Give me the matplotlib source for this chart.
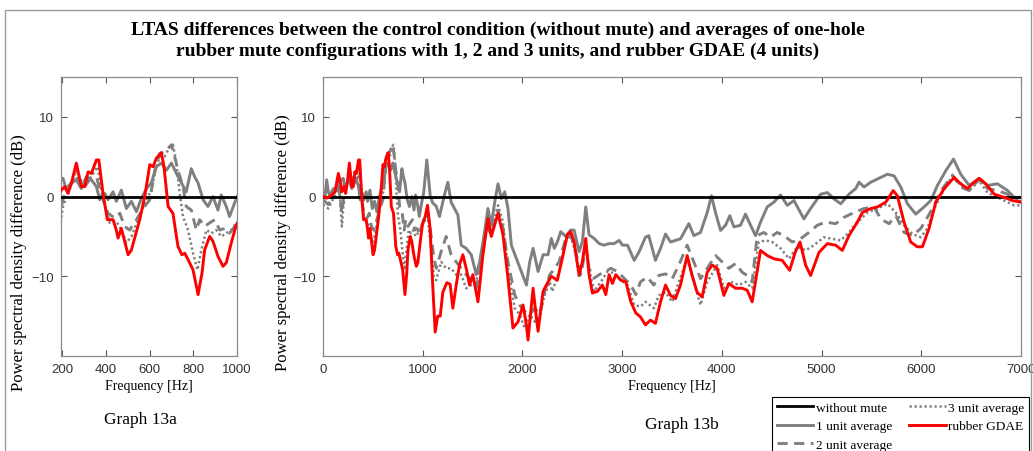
"""
LTAS differences: control vs. one-hole rubber mute averages (Graph 13a / 13b)
"""
import numpy as np
import matplotlib
matplotlib.use("Agg")
import matplotlib.pyplot as plt
from matplotlib.patches import Rectangle

# ---- data (frequency in Hz, difference in dB) ----
f_1unit = [0, 20, 37, 55, 70, 104, 130, 154, 189, 204, 220, 243, 265, 288, 311, 334, 357, 372,
           395, 410, 433, 448, 471, 494, 517, 540, 563, 586, 608, 631, 654, 677, 700, 723, 746,
           768, 791, 806, 822, 845, 867, 890, 913, 928, 951, 966, 989, 1010, 1041, 1075, 1100,
           1135, 1168, 1218, 1252, 1285, 1319, 1353, 1386, 1436, 1487, 1537, 1571, 1621, 1654,
           1688, 1722, 1755, 1789, 1822, 1855, 1889, 1939, 1989, 2040, 2073, 2107, 2157, 2207,
           2257, 2290, 2320, 2350, 2384, 2434, 2484, 2518, 2568, 2601, 2635, 2668, 2719, 2769,
           2819, 2869, 2920, 2970, 3003, 3054, 3121, 3171, 3234, 3267, 3334, 3385, 3435, 3485,
           3535, 3585, 3669, 3719, 3786, 3853, 3896, 3936, 3987, 4037, 4080, 4120, 4187, 4237,
           4288, 4338, 4388, 4455, 4522, 4589, 4656, 4723, 4823, 4890, 4991, 5058, 5125, 5192,
           5275, 5342, 5376, 5426, 5493, 5560, 5660, 5727, 5794, 5861, 5944, 6028, 6095, 6162,
           6246, 6323, 6396, 6480, 6580, 6664, 6764, 6865, 6932, 7000]
v_1unit = [0.6, 0.0, 2.1, 0.5, 0.2, 1.0, 0.8, 1.9, 2.1, 2.3, 0.8, 1.7, 2.1, 1.0, 2.5, 2.1, 1.25, -0.4,
           0.4, -0.4, 0.6, -0.6, 0.8, -1.5, -0.6, -1.9, -0.2, 1.0, 1.7, 3.75, 4.2, 3.3, 4.2, 2.9, 1.7,
           0.6, 3.5, 2.5, 1.7, -0.4, -1.25, 0.0, -1.7, 0.2, -1.25, -2.5, -0.8, 0.5, 4.6, 0.1, -0.8,
           -1.2, -2.5, 0.2, 1.8, -0.7, -1.5, -2.3, -6.1, -6.5, -7.3, -9.8, -8.2, -4.4, -1.5,
           -3.6, -0.7, 1.6, -0.25, 0.6, -1.5, -6.1, -7.75, -9.4, -11.1, -8.2, -6.5, -9.4, -7.3,
           -7.3, -5.25, -6.5, -5.7, -4.4, -5.0, -4.2, -4.2, -6.9, -5.7, -1.3, -4.8, -5.25, -5.9,
           -6.1, -5.9, -5.9, -5.5, -6.1, -6.1, -8.0, -6.9, -5.1, -4.9, -8.0, -6.5, -4.7, -5.7,
           -5.5, -5.3, -3.4, -4.9, -4.5, -2.0, 0.1, -2.0, -4.25, -3.6, -2.4, -3.8, -3.6, -2.2,
           -3.6, -4.9, -3.2, -1.3, -0.7, 0.2, -1.1, -0.5, -2.8, -1.5, 0.3, 0.5, -0.3, -0.9,
           0.3, 1.0, 1.8, 1.2, 1.8, 2.2, 2.8, 2.6, 1.2, -0.9, -2.2, -1.3, -0.5, 1.4,
           3.25, 4.7, 2.8, 1.4, 2.2, 1.4, 1.6, 0.75, -0.1, -0.1]

f_2unit = [0, 54, 104, 154, 189, 204, 227, 265, 296, 326, 357, 380, 410, 441, 464, 486, 509, 540,
           570, 601, 624, 646, 669, 700, 715, 730, 753, 768, 791, 814, 829, 852, 875, 898, 921,
           944, 966, 997, 1020, 1050, 1080, 1110, 1135, 1185, 1235, 1285, 1336, 1386, 1436, 1487,
           1537, 1588, 1638, 1688, 1755, 1805, 1855, 1922, 1972, 2023, 2073, 2123, 2174, 2224,
           2274, 2300, 2367, 2434, 2484, 2535, 2585, 2635, 2668, 2719, 2769, 2836, 2886, 2953,
           3020, 3087, 3137, 3184, 3251, 3318, 3368, 3435, 3502, 3569, 3652, 3719, 3786, 3853,
           3936, 4003, 4070, 4137, 4204, 4254, 4304, 4354, 4421, 4488, 4555, 4622, 4706, 4789,
           4873, 4957, 5041, 5141, 5225, 5326, 5426, 5527, 5593, 5677, 5744, 5827, 5911, 5995,
           6062, 6129, 6213, 6313, 6396, 6480, 6580, 6664, 6764, 6865, 6932, 7000]
v_2unit = [-0.4, -1.0, 0.2, 1.7, -2.1, -0.4, 1.25, 2.5, 1.0, 2.1, 2.5, 0.2, -2.1, -2.7, -2.1, -3.75, -4.2, -2.9,
           -1.5, -0.4, 3.3, 5.4, 5.6, 6.5, 5.0, 3.3, 1.25, -1.25, -1.7, -4.2, -2.9, -3.75, -3.3, -2.9, -4.2,
           -4.0, -4.6, -3.5, -2.5, -2.0, -4.5, -7.5, -9.0, -6.9, -5.0, -7.3, -8.2, -9.0, -9.8, -10.5,
           -11.5, -8.2, -3.6, -4.8, -1.7, -4.0, -8.2, -12.3, -13.6, -14.4, -14.8, -14.0, -14.8, -11.9,
           -9.8, -9.4, -8.2, -5.25, -4.8, -6.9, -9.8, -6.5, -9.0, -10.25, -9.8, -9.4, -9.0, -9.4,
           -10.25, -11.1, -12.3, -10.7, -10.1, -11.1, -9.9, -9.7, -10.3, -8.6, -6.1, -8.2, -10.3, -9.0,
           -7.4, -8.2, -9.0, -8.4, -9.5, -9.9, -10.7, -4.9, -4.5, -5.1, -4.5, -4.9, -5.7, -5.3,
           -4.5, -3.6, -3.2, -3.4, -2.6, -2.0, -1.5, -1.3, -2.8, -3.4, -2.4, -4.5, -4.9, -4.0,
           -2.6, -1.1, 1.0, 2.7, 1.2, 0.75, 2.2, 1.0, 0.75, 0.3, -0.3, -0.7]

f_3unit = [0, 54, 104, 154, 170, 189, 204, 227, 265, 296, 334, 362, 387, 418, 448, 471, 494, 517,
           547, 578, 608, 624, 646, 669, 692, 707, 723, 738, 753, 776, 799, 819, 837, 860, 883,
           905, 928, 951, 974, 997, 1020, 1050, 1080, 1110, 1135, 1185, 1235, 1285, 1336, 1386,
           1436, 1487, 1537, 1588, 1638, 1688, 1755, 1805, 1855, 1922, 1972, 2023, 2073, 2123,
           2174, 2224, 2274, 2300, 2367, 2434, 2484, 2535, 2568, 2635, 2668, 2719, 2786, 2853,
           2920, 2987, 3054, 3121, 3184, 3234, 3318, 3368, 3435, 3502, 3569, 3652, 3719, 3786,
           3853, 3953, 4020, 4087, 4170, 4237, 4304, 4371, 4438, 4505, 4589, 4673, 4756, 4840,
           4924, 5024, 5108, 5192, 5275, 5359, 5460, 5560, 5660, 5744, 5827, 5911, 5995, 6062,
           6129, 6213, 6313, 6396, 6480, 6580, 6664, 6764, 6865, 6932, 7000]
v_3unit = [-1.0, -1.5, -0.2, 1.0, 0.2, -3.75, -1.25, 0.4, 3.3, 1.5, 2.5, 3.75, -0.4, -3.3, -3.1, -4.2, -5.8, -5.0,
           -2.9, -0.8, 0.8, 2.9, 5.0, 5.0, 6.25, 6.5, 4.2, 0.4, -2.5, -4.2, -7.1, -9.2, -6.7, -4.2, -4.6,
           -4.2, -5.0, -4.6, -4.2, -3.3, -3.0, -2.5, -6.0, -10.0, -10.5, -8.2, -9.0, -9.0, -9.8, -9.8,
           -11.5, -11.1, -10.7, -7.3, -3.2, -4.4, -1.1, -3.2, -9.0, -14.0, -14.8, -16.5, -14.8, -15.7,
           -14.8, -12.3, -10.7, -11.9, -9.4, -5.7, -4.8, -7.3, -10.25, -5.9, -9.0, -11.9, -10.7, -9.4,
           -9.6, -10.5, -11.1, -13.6, -13.8, -13.2, -14.0, -12.4, -12.0, -13.2, -10.7, -7.8, -10.7, -13.6,
           -10.7, -8.6, -11.5, -10.7, -11.1, -10.7, -11.5, -5.7, -5.5, -5.7, -6.5, -7.8, -6.3, -6.75,
           -6.1, -5.1, -5.3, -5.5, -4.5, -3.2, -2.0, -1.5, -0.9, -2.0, -3.6, -4.7, -5.1, -4.0,
           -1.5, 0.5, 2.6, 1.4, 0.75, 2.0, 0.5, -0.1, -0.7, -1.1, -1.1]

f_gdae = [0, 37, 87, 120, 154, 175, 189, 212, 227, 243, 265, 288, 304, 319, 334, 357, 368, 387,
          407, 433, 448, 456, 471, 502, 517, 555, 578, 601, 616, 631, 654, 666, 685, 707, 730,
          748, 761, 776, 799, 822, 840, 852, 875, 890, 913, 936, 951, 974, 997, 1025, 1048, 1074,
          1100, 1125, 1150, 1175, 1202, 1242, 1275, 1302, 1336, 1370, 1403, 1436, 1470, 1503,
          1554, 1604, 1654, 1688, 1755, 1805, 1855, 1905, 1956, 2006, 2040, 2056, 2107, 2140,
          2157, 2207, 2257, 2290, 2350, 2400, 2450, 2484, 2518, 2568, 2601, 2635, 2668, 2702,
          2752, 2802, 2836, 2869, 2903, 2936, 2987, 3037, 3087, 3137, 3184, 3234, 3284, 3334,
          3385, 3435, 3485, 3535, 3585, 3652, 3702, 3752, 3802, 3853, 3903, 3953, 4020, 4070,
          4137, 4204, 4254, 4304, 4337, 4388, 4455, 4522, 4605, 4680, 4735, 4784, 4840, 4890,
          4974, 5058, 5141, 5208, 5275, 5359, 5409, 5493, 5560, 5644, 5718, 5760, 5827, 5894,
          5961, 6011, 6078, 6145, 6229, 6329, 6396, 6463, 6530, 6580, 6647, 6731, 6831, 6915, 7000]
v_gdae = [0.0, -0.2, 0.2, 0.6, 2.9, 1.7, 0.6, 1.25, 0.4, 1.7, 4.2, 1.25, 1.25, 3.1, 2.9, 4.6, 4.6, 0.4,
          -2.9, -2.9, -4.2, -5.2, -4.0, -7.3, -6.7, -2.9, 0.0, 4.0, 3.75, 4.8, 5.5, 3.75, -1.25, -2.1, -6.25,
          -7.3, -7.1, -7.9, -9.2, -12.3, -9.6, -6.7, -5.0, -5.6, -7.5, -8.75, -8.3, -5.8, -3.5, -2.5, -1.1, -4.0,
          -11.0, -17.0, -15.0, -15.0, -12.0, -10.8, -11.0, -14.0, -11.1, -8.5, -7.3, -9.0, -11.1, -9.8,
          -13.2, -7.3, -2.75, -5.0, -2.1, -4.8, -10.25, -16.5, -15.7, -13.6, -16.1, -18.0, -11.5, -15.25,
          -16.9, -11.9, -10.7, -10.0, -10.5, -7.75, -4.8, -4.4, -5.7, -9.8, -8.2, -5.25, -9.8, -12.1,
          -11.9, -11.1, -12.3, -9.8, -10.9, -9.8, -10.5, -10.7, -13.2, -14.6, -15.1, -16.1, -15.5, -15.9,
          -13.2, -11.1, -12.4, -12.8, -11.1, -7.4, -9.9, -12.0, -12.6, -9.5, -8.6, -9.0, -12.4, -10.9,
          -11.5, -11.5, -11.75, -13.2, -10.7, -6.75, -7.4, -7.8, -8.0, -9.25, -7.0, -5.7, -8.6, -9.9,
          -7.0, -5.9, -6.1, -6.75, -4.9, -3.2, -2.0, -1.5, -1.3, -0.7, 0.75, 0.1, -3.2, -5.7,
          -6.3, -6.3, -4.0, -0.7, 1.0, 2.4, 1.6, 1.0, 1.8, 2.3, 1.6, 0.3, -0.1, -0.5, -0.7]

f_ref = [0, 7000]
v_ref = [0, 0]

labels = ["without mute", "1 unit average", "2 unit average", "3 unit average", "rubber GDAE"]
title = ("LTAS differences between the control condition (without mute) and averages of one-hole\n"
         "rubber mute configurations with 1, 2 and 3 units, and rubber GDAE (4 units)")

W, H = 1033, 452
SERIF = ["Liberation Serif", "DejaVu Serif"]
SANS = ["Liberation Sans", "DejaVu Sans"]
GRAY = "#7f7f7f"


def draw(ax):
    ax.plot(f_1unit, v_1unit, color=GRAY, lw=2.1, zorder=2, label=labels[1])
    ax.plot(f_2unit, v_2unit, color=GRAY, lw=2.1, ls=(0, (3.5, 2.2)), zorder=2, label=labels[2])
    ax.plot(f_3unit, v_3unit, color=GRAY, lw=1.8, ls=(0, (0.9, 1.1)), zorder=2, label=labels[3])
    ax.plot(f_ref, v_ref, color="black", lw=2.0, zorder=3, label=labels[0])
    ax.plot(f_gdae, v_gdae, color="#ff0000", lw=2.1, zorder=4, label=labels[4])
    ax.set_ylim(-20, 15)
    ax.set_yticks([-10, 0, 10])
    ax.tick_params(direction="in", top=True, right=True, length=4, width=0.8, pad=5,
                   color="#555555", labelcolor="#333333", labelsize=9.5)
    for lab in ax.get_xticklabels() + ax.get_yticklabels():
        lab.set_fontfamily(SANS)
    for s in ax.spines.values():
        s.set_color("#8c8c8c")
        s.set_linewidth(0.9)
    ax.set_xlabel("Frequency [Hz]", family=SERIF, fontsize=10, labelpad=3)
    ax.set_ylabel("Power spectral density difference (dB)", family=SERIF, fontsize=12)


fig = plt.figure(figsize=(W / 100, H / 100), dpi=100)

axA = fig.add_axes([61 / W, 1 - 357 / H, 176 / W, 279 / H])
draw(axA)
axA.set_xlim(195, 1000)
axA.set_xticks([200, 400, 600, 800, 1000])
axA.yaxis.set_label_coords(-0.195, 0.34)

axB = fig.add_axes([323 / W, 1 - 357 / H, 698 / W, 279 / H])
draw(axB)
axB.set_xlim(0, 7000)
axB.set_xticks(np.arange(0, 7001, 1000))
axB.yaxis.set_label_coords(-0.046, 0.41)

fig.text(0.482, 1 - 41 / H, title, ha="center", va="center", family=SERIF,
         fontsize=14, fontweight="bold", linespacing=1.25)
fig.text(140 / W, 1 - 420 / H, "Graph 13a", ha="center", va="center", family=SERIF, fontsize=12.5)
fig.text(682 / W, 1 - 425 / H, "Graph 13b", ha="center", va="center", family=SERIF, fontsize=12.5)

# legend, clipped by the bottom edge like in the source image
h, l = axB.get_legend_handles_labels()
order = [l.index(x) for x in labels]
leg = fig.legend([h[i] for i in order], [l[i] for i in order], ncol=2,
                 loc="upper left", bbox_to_anchor=(772 / W, 1 - 398 / H),
                 prop={"family": SERIF, "size": 9.6}, frameon=True, fancybox=False,
                 edgecolor="black", framealpha=1, borderpad=0.35, labelspacing=0.45,
                 handlelength=2.75, handletextpad=0.2, columnspacing=1.25, borderaxespad=0)
leg.get_frame().set_linewidth(0.8)

# thin frame around the whole figure
fig.add_artist(Rectangle((5 / W, -0.2), (1031 - 5) / W, 1 - 11 / H + 0.2, transform=fig.transFigure,
                         fill=False, ec="#9a9a9a", lw=1.0))

fig.savefig("out.png", dpi=100)
